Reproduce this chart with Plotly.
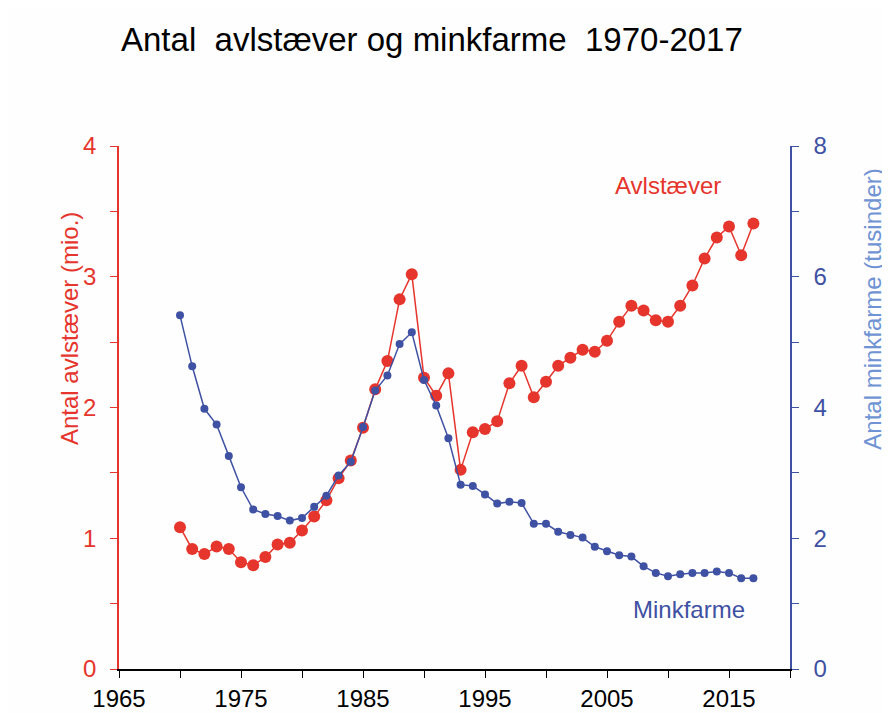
import plotly.graph_objects as go

years = list(range(1970, 2018))
avlstaever = [1.085, 0.917, 0.879, 0.937, 0.917, 0.817, 0.794, 0.856, 0.952, 0.965,
              1.059, 1.166, 1.290, 1.459, 1.594, 1.846, 2.139, 2.355, 2.827, 3.020,
              2.228, 2.090, 2.261, 1.523, 1.810, 1.836, 1.894, 2.185, 2.319, 2.078,
              2.197, 2.319, 2.381, 2.441, 2.426, 2.510, 2.655, 2.778, 2.742, 2.668,
              2.655, 2.778, 2.933, 3.140, 3.300, 3.384, 3.165, 3.407]
minkfarme = [5.41, 4.63, 3.98, 3.74, 3.26, 2.78, 2.44, 2.37, 2.34, 2.27,
             2.31, 2.48, 2.65, 2.96, 3.17, 3.70, 4.26, 4.49, 4.97, 5.15,
             4.42, 4.03, 3.53, 2.82, 2.80, 2.67, 2.53, 2.56, 2.54, 2.22,
             2.22, 2.10, 2.05, 2.01, 1.87, 1.80, 1.74, 1.72, 1.57, 1.47,
             1.42, 1.45, 1.47, 1.47, 1.49, 1.47, 1.39, 1.39]

x_ticks = list(range(1965, 2021, 5))
x_labels = [str(v) if (v - 1965) % 10 == 0 else "" for v in x_ticks]
y1_ticks = [i * 0.5 for i in range(9)]
y1_labels = [str(int(v)) if v == int(v) else "" for v in y1_ticks]
y2_ticks = list(range(0, 9))
y2_labels = [str(v) if v % 2 == 0 else "" for v in y2_ticks]

RED = "#e5352c"
BLUE = "#3f51a3"
LIGHTBLUE = "#6f93d3"
FONT = "Liberation Sans, Arial, sans-serif"

fig = go.Figure()
fig.add_trace(go.Scatter(x=years, y=avlstaever, mode="lines+markers", name="Avlstæver",
                         line=dict(color=RED, width=1.5),
                         marker=dict(color=RED, size=12), yaxis="y"))
fig.add_trace(go.Scatter(x=years, y=minkfarme, mode="lines+markers", name="Minkfarme",
                         line=dict(color=BLUE, width=1.5),
                         marker=dict(color=BLUE, size=8), yaxis="y2"))

fig.update_layout(
    width=882, height=705,
    paper_bgcolor="#fefefe", plot_bgcolor="#fefefe",
    margin=dict(l=111, r=100, t=138, b=44),
    showlegend=False,
    font=dict(family=FONT),
    xaxis=dict(range=[1965, 2020], tickvals=x_ticks, ticktext=x_labels, automargin=False,
               showgrid=False, zeroline=False, showline=True, linecolor="black", linewidth=1.5,
               ticks="outside", ticklen=7, tickcolor="black",
               tickfont=dict(size=24, color="black", family=FONT)),
    yaxis=dict(range=[0, 4], tickvals=y1_ticks, ticktext=y1_labels, automargin=False,
               showgrid=False, zeroline=False, showline=True, linecolor=RED, linewidth=1.5,
               ticks="outside", ticklen=7, tickcolor=RED, ticklabelstandoff=9,
               tickfont=dict(size=24, color=RED, family=FONT)),
    yaxis2=dict(range=[0, 8], tickvals=y2_ticks, ticktext=y2_labels, overlaying="y", side="right",
                automargin=False,
                showgrid=False, zeroline=False, showline=True, linecolor=BLUE, linewidth=1.5,
                ticks="outside", ticklen=7, tickcolor=BLUE, ticklabelstandoff=10,
                tickfont=dict(size=24, color=BLUE, family=FONT)),
    annotations=[
        dict(text="Antal  avlstæver og minkfarme  1970-2017", x=0.467, y=1.2027,
             xref="paper", yref="paper", xanchor="center", yanchor="middle",
             showarrow=False, font=dict(size=33, color="black", family=FONT)),
        dict(text="Avlstæver", x=2010.0, y=3.70, xref="x", yref="y", showarrow=False,
             xanchor="center", yanchor="middle",
             font=dict(size=24, color=RED, family=FONT)),
        dict(text="Minkfarme", x=2011.7, y=0.453, xref="x", yref="y", showarrow=False,
             xanchor="center", yanchor="middle",
             font=dict(size=24, color=BLUE, family=FONT)),
        dict(text="Antal avlstæver (mio.)", x=-0.0745, y=0.650, xref="paper", yref="paper",
             xanchor="center", yanchor="middle",
             textangle=-90, showarrow=False, font=dict(size=24, color=RED, family=FONT)),
        dict(text="Antal minkfarme (tusinder)", x=1.123, y=0.688, xref="paper", yref="paper",
             xanchor="center", yanchor="middle",
             textangle=-90, showarrow=False, font=dict(size=24, color=LIGHTBLUE, family=FONT)),
    ],
)
fig.write_html("out.html")
